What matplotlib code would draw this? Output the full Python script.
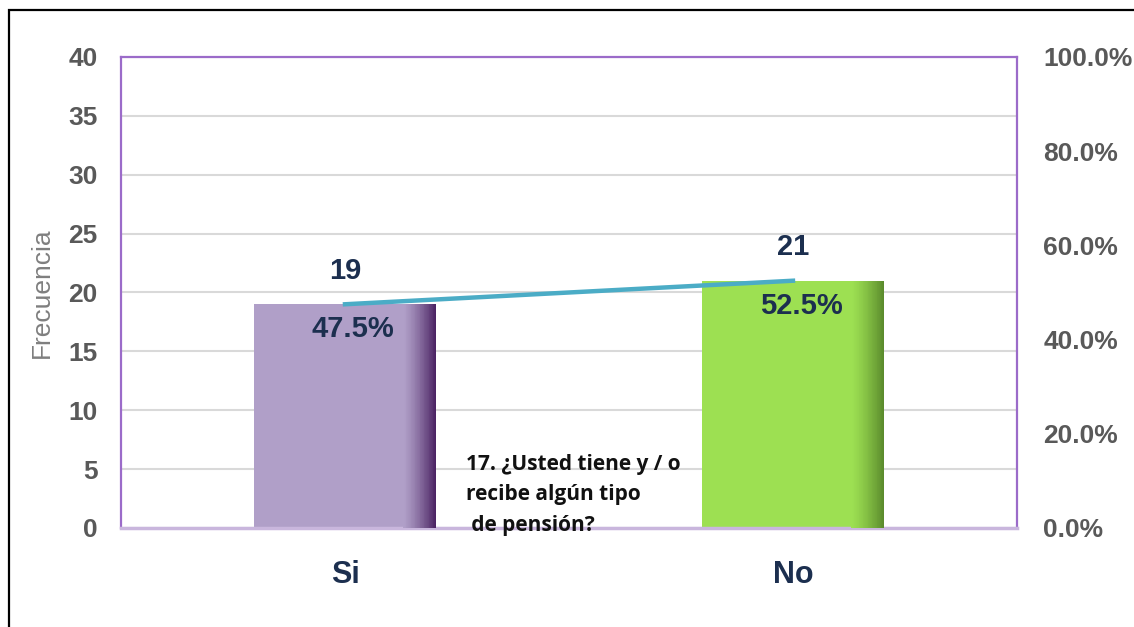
import matplotlib
matplotlib.use('Agg')
import matplotlib.pyplot as plt
import numpy as np
from matplotlib.colors import LinearSegmentedColormap
from matplotlib.patches import Rectangle
from matplotlib.ticker import FuncFormatter

# datos del grafico
categorias = ['Si', 'No']
frecuencia = [19, 21]
porcentaje = [0.475, 0.525]
colores_base = ['#b09fc8', '#9de052']
colores_sombra = ['#4a2262', '#5a8a2c']
pregunta = '17. ¿Usted tiene y / o\nrecibe algún tipo\n de pensión?'

plt.rcParams['font.family'] = ['Liberation Sans', 'DejaVu Sans']

fig = plt.figure(figsize=(11.34, 6.27), dpi=100)
ax = fig.add_axes([0.1067, 0.1579, 0.7901, 0.7512])

# marco negro del recorte
fig.patches.append(Rectangle((9 / 1134, -0.1), 1.2, 1 - 10 / 627 + 0.1,
                             transform=fig.transFigure, fill=False,
                             edgecolor='black', linewidth=1.6))

x = np.arange(len(categorias))
ancho = 0.406
barras = ax.bar(x, frecuencia, width=ancho, color=colores_base, zorder=2)

# sombreado a la derecha de cada barra (franjas finas)
n = 40
for b, c0, c1 in zip(barras, colores_base, colores_sombra):
    x0, w, h = b.get_x(), b.get_width(), b.get_height()
    cmap = LinearSegmentedColormap.from_list('g', [c0, c1])
    xs = np.linspace(x0 + 0.82 * w, x0 + w, n + 1)
    for k in range(n):
        t = ((k + 0.5) / n) ** 1.3
        ax.bar(xs[k], h, width=(xs[k + 1] - xs[k]) * 1.05, align='edge',
               color=cmap(t), linewidth=0, zorder=3)

ax.set_xlim(-0.5, 1.5)
ax.set_ylim(0, 40)
ax.set_yticks(range(0, 41, 5))
ax.set_xticks(x)
ax.set_xticklabels(categorias, fontsize=22, fontweight='bold', color='#1c2f4f')
ax.grid(axis='y', color='#d9d9d9', linewidth=1.5, zorder=0)
ax.set_axisbelow(True)
ax.tick_params(axis='y', length=0, pad=17, labelsize=19, labelcolor='#595959')
ax.tick_params(axis='x', length=0, pad=23)
for t in ax.get_yticklabels():
    t.set_fontweight('bold')
ax.set_ylabel('Frecuencia', fontsize=19, color='#7f7f7f', labelpad=10)

for lado in ['left', 'top', 'right']:
    ax.spines[lado].set_color('#9b6bc9')
    ax.spines[lado].set_linewidth(1.6)
ax.spines['bottom'].set_color('#c9b6dd')
ax.spines['bottom'].set_linewidth(2.5)

for xi, v in zip(x, frecuencia):
    ax.annotate(str(v), (xi, v), xytext=(0, 24), textcoords='offset points',
                ha='center', va='center', fontsize=21, fontweight='bold',
                color='#1c2f4f', zorder=6)

ax.text(0.385, 0.158, pregunta, transform=ax.transAxes, ha='left', va='top',
        fontsize=15, fontweight='bold', family=['Open Sans', 'DejaVu Sans'],
        linespacing=1.62, color='#111111', zorder=6)

# eje secundario con porcentaje
ax2 = ax.twinx()
ax2.plot(x, porcentaje, color='#4bacc6', linewidth=3.2, zorder=5)
ax2.set_ylim(0, 1)
ax2.set_yticks(np.arange(0, 1.01, 0.2))
ax2.yaxis.set_major_formatter(FuncFormatter(lambda v, p: '{:.1%}'.format(v)))
ax2.tick_params(axis='y', length=0, pad=19, labelsize=19, labelcolor='#595959')
for t in ax2.get_yticklabels():
    t.set_fontweight('bold')
for s in ax2.spines.values():
    s.set_visible(False)

for xi, p in zip(x, porcentaje):
    ax2.annotate('{:.1%}'.format(p), (xi, p), xytext=(6, -18),
                 textcoords='offset points', ha='center', va='center',
                 fontsize=21, fontweight='bold', color='#1c2f4f', zorder=6)

fig.savefig('out.png', dpi=100)
